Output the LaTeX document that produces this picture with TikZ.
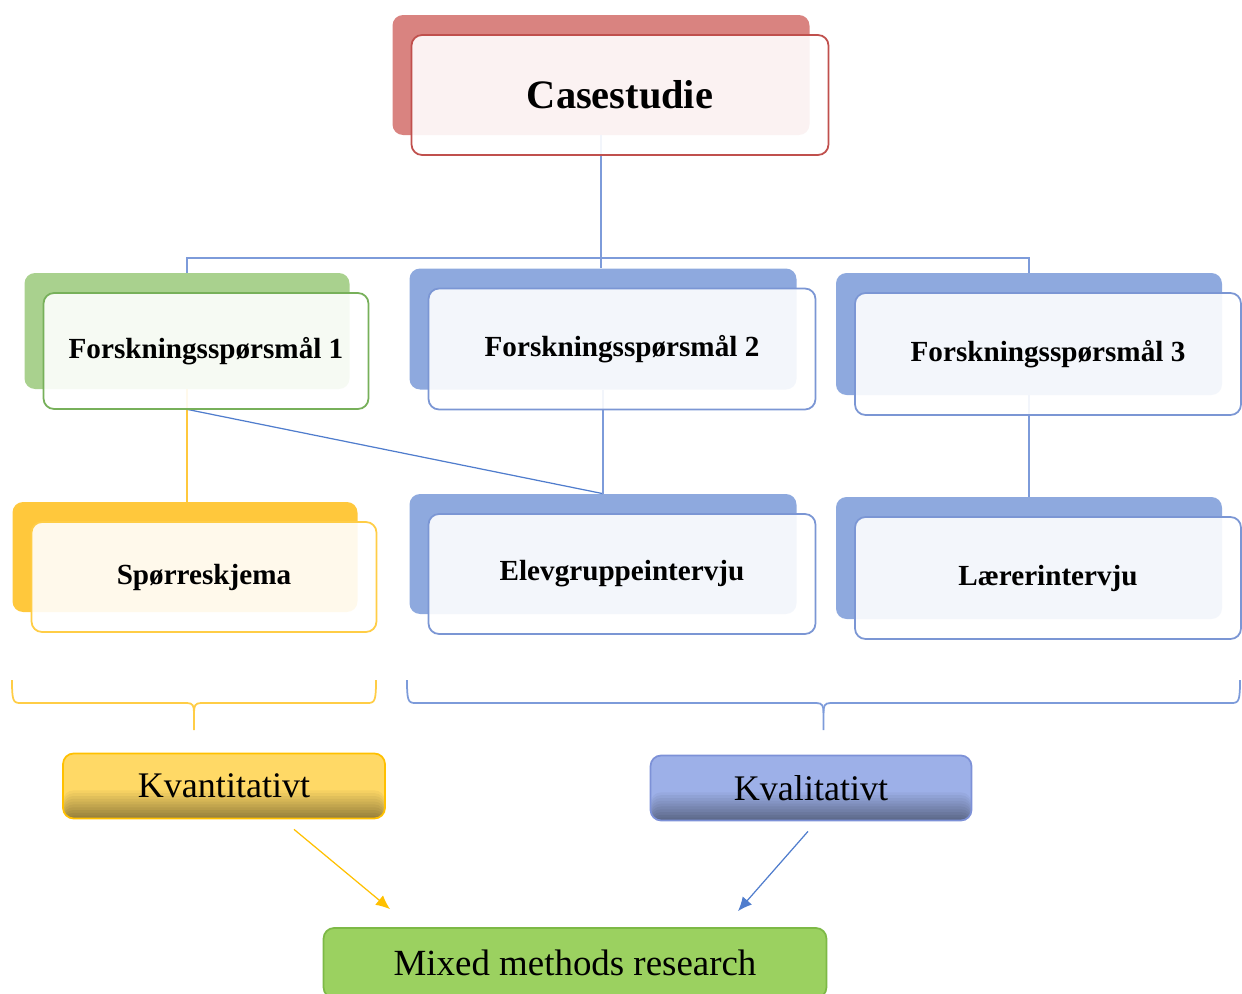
\documentclass[tikz,border=0pt]{standalone}
\usepackage{fontspec}
\setmainfont{Liberation Serif}
\usetikzlibrary{arrows.meta}

\definecolor{csred}{RGB}{217,131,128}
\definecolor{csline}{RGB}{192,80,77}
\definecolor{fqgreen}{RGB}{169,209,142}
\definecolor{fqgreenline}{RGB}{119,176,90}
\definecolor{fqblue}{RGB}{142,169,222}
\definecolor{fqblueline}{RGB}{123,150,212}
\definecolor{spyellow}{RGB}{255,200,60}
\definecolor{spyellowline}{RGB}{255,205,70}
\definecolor{kvyellow}{RGB}{255,217,102}
\definecolor{kvyellowline}{RGB}{255,192,0}
\definecolor{kvblue}{RGB}{157,176,232}
\definecolor{kvblueline}{RGB}{125,145,215}
\definecolor{mmgreen}{RGB}{155,209,96}
\definecolor{mmgreenline}{RGB}{125,185,70}
\definecolor{treeblue}{RGB}{125,155,218}
\definecolor{arrowblue}{RGB}{80,125,205}

\tikzset{
  backbox/.style={rectangle, rounded corners=6pt, inner sep=0pt},
  frontbox/.style={rectangle, rounded corners=6pt, inner sep=0pt, fill=white,
    fill opacity=0.9, text opacity=1, line width=1pt},
  resbox/.style={rectangle, rounded corners=6pt, inner sep=0pt, line width=1pt,
    font=\fontsize{20.5}{24}\selectfont},
  resfill/.style={fill=#1, path picture={
    \foreach \i in {1,...,10} {
      \pgfmathtruncatemacro{\pc}{100-4*\i}
      \fill[#1!\pc!black] ([yshift=(11-\i)*1.6pt]path picture bounding box.south west)
        rectangle (path picture bounding box.south east);
    }}},
  treeline/.style={treeblue, line width=0.7pt},
}

% name/x/y/width/height/fill/border/font size/text
\def\boxlist{
  cs/601/75/417/120/csred/csline/23/Casestudie,
  fqa/187/331/325/116/fqgreen/fqgreenline/16.6/Forskningsspørsmål 1,
  fqb/603/329/387/121/fqblue/fqblueline/16.6/Forskningsspørsmål 2,
  fqc/1029/334/386/122/fqblue/fqblueline/16.6/Forskningsspørsmål 3,
  sp/185/557/345/110/spyellow/spyellowline/16.6/Spørreskjema,
  el/603/554/387/120/fqblue/fqblueline/16.6/Elevgruppeintervju,
  la/1029/558/386/122/fqblue/fqblueline/16.6/Lærerintervju}

\begin{document}
\begin{tikzpicture}[x=0.02cm, y=-0.02cm]

  \useasboundingbox (0,0) rectangle (1242,994);

  % Back boxes
  \foreach \nm/\cx/\cy/\w/\h/\col/\bcol/\fs/\txt in \boxlist {
    \node[backbox, fill=\col, minimum width=\w*0.02cm, minimum height=\h*0.02cm]
      (\nm-back) at (\cx,\cy) {};
  }

  % Tree
  \coordinate (bar) at (0,258);
  \draw[treeline] (cs-back.south) -- (cs-back.south |- fqb-back.north);
  \draw[treeline] (fqa-back.north) -- (fqa-back.north |- bar)
    -- (fqc-back.north |- bar) -- (fqc-back.north);
  \draw[spyellow, line width=1.4pt] (fqa-back.south) -- (fqa-back.south |- sp-back.north);
  \draw[arrowblue, line width=0.7pt] ([shift={(0,20)}]fqa-back.south) -- (el-back.north);
  \draw[treeline] (fqb-back.south) -- (fqb-back.south |- el-back.north);
  \draw[treeline] (fqc-back.south) -- (fqc-back.south |- la-back.north);

  % Front boxes
  \foreach \nm/\cx/\cy/\w/\h/\col/\bcol/\fs/\txt in \boxlist {
    \node[frontbox, draw=\bcol, minimum width=\w*0.02cm, minimum height=\h*0.02cm,
      font=\fontsize{\fs}{\fs}\selectfont\bfseries]
      (\nm) at ([shift={(19,20)}]\nm-back) {\txt};
  }

  % Braces
  \foreach \xa/\xb/\col in {12/376/spyellowline, 407/1240/treeblue} {
    \pgfmathsetmacro{\xm}{(\xa+\xb)/2}
    \draw[\col, line width=1pt] (\xa,680) .. controls (\xa,700) and (\xa+1,703) .. (\xa+8,703)
      -- (\xm-7,703) .. controls (\xm-1,703) and (\xm,706) .. (\xm,713) -- (\xm,730);
    \draw[\col, line width=1pt] (\xb,680) .. controls (\xb,700) and (\xb-1,703) .. (\xb-8,703)
      -- (\xm+7,703) .. controls (\xm+1,703) and (\xm,706) .. (\xm,713);
  }

  % Results
  \node[resbox, draw=kvyellowline, resfill=kvyellow, minimum width=6.44cm, minimum height=1.3cm]
    (kvant) at (224,786) {Kvantitativt};
  \node[resbox, draw=kvblueline, resfill=kvblue, minimum width=6.42cm, minimum height=1.3cm]
    (kvali) at (811,788) {Kvalitativt};
  \node[resbox, draw=mmgreenline, fill=mmgreen, minimum width=10.06cm, minimum height=1.4cm,
    font=\fontsize{21}{25}\selectfont] (mixed) at (575,963) {Mixed methods research};

  % Arrows
  \draw[kvyellowline, line width=0.7pt, -{Latex[length=8pt,width=7pt]}]
    ([shift={(70,10)}]kvant.south) -- ([shift={(-185,-18)}]mixed.north);
  \draw[arrowblue, line width=0.7pt, -{Latex[length=8pt,width=7pt]}]
    ([shift={(-3,10)}]kvali.south) -- ([shift={(163,-16)}]mixed.north);

\end{tikzpicture}
\end{document}
